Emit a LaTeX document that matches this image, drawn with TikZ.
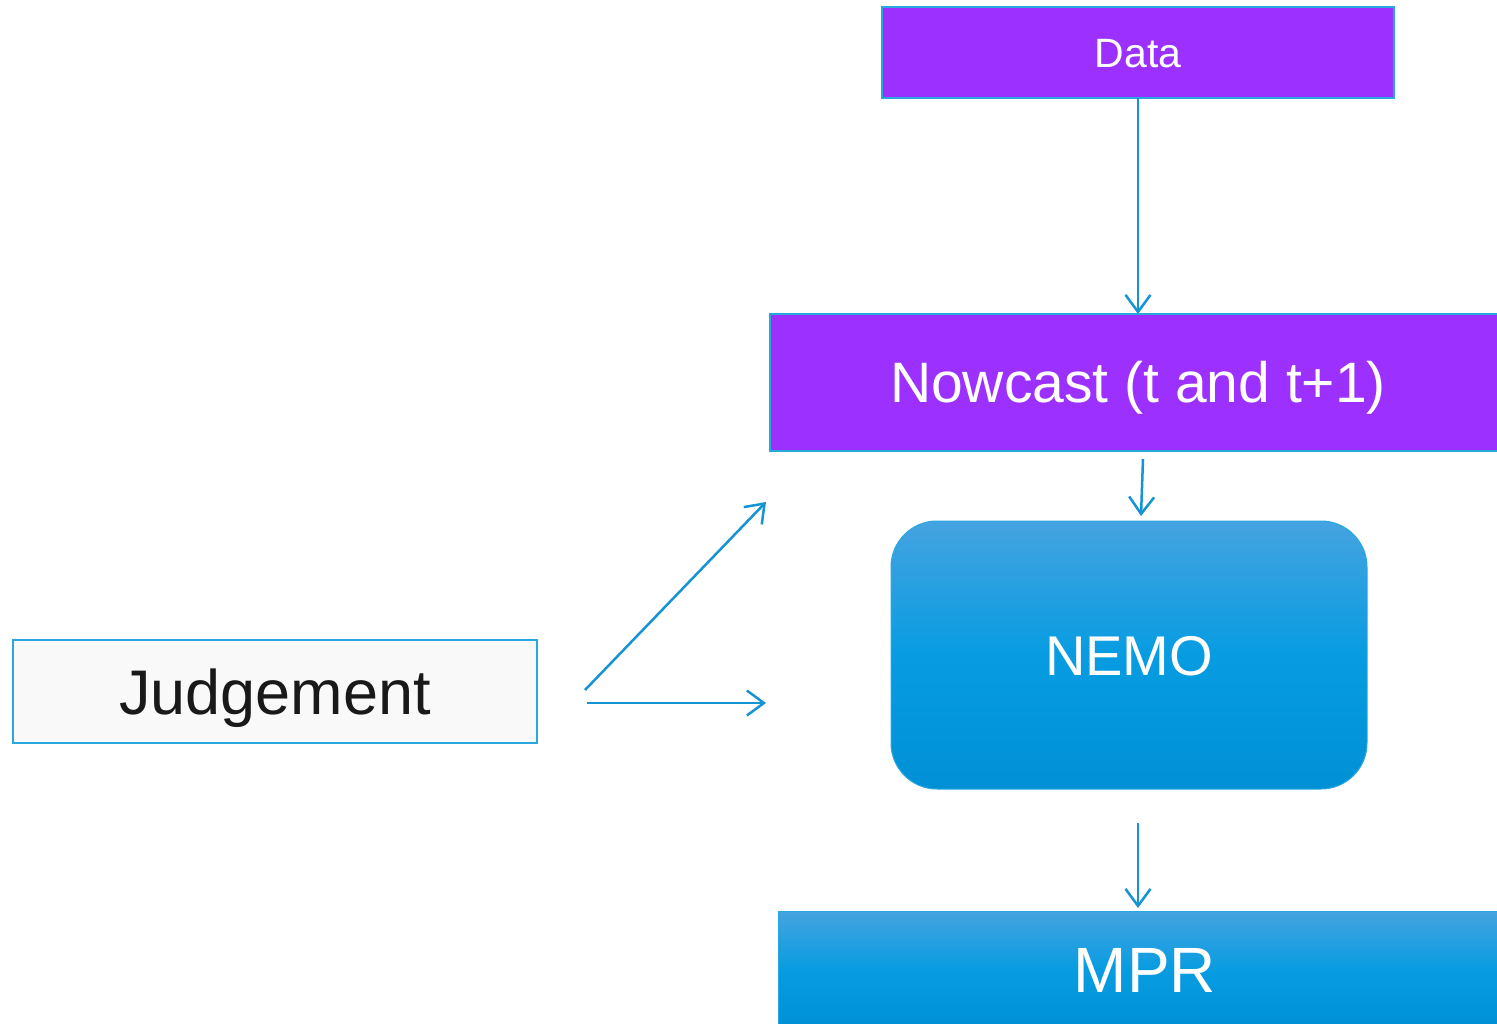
\documentclass[tikz,border=0pt]{standalone}
\usepackage{fontspec}
\setmainfont{Liberation Sans}
\usetikzlibrary{arrows.meta}
\definecolor{violetbox}{HTML}{9B30FF}
\definecolor{edgeblue}{HTML}{29A8E0}
\definecolor{arrowblue}{HTML}{1594D4}
\definecolor{shadetop}{HTML}{45A3E0}
\definecolor{shademid}{HTML}{079CE1}
\definecolor{shadebot}{HTML}{0090D6}
\definecolor{paper}{HTML}{F9F9F9}
\tikzset{
  violet box/.style={draw=edgeblue, line width=1.2pt, fill=violetbox, text=white,
    inner sep=0pt, outer sep=0pt, text depth=0pt},
  blue box/.style={draw=edgeblue, line width=1pt, top color=shadetop,
    bottom color=shadebot, middle color=shademid, text=white,
    inner sep=0pt, outer sep=0pt, text depth=0pt},
  plain box/.style={draw=edgeblue, line width=1.2pt, fill=paper, text=black!90,
    inner sep=0pt, outer sep=0pt, text depth=0pt},
  flow/.style={draw=arrowblue, line width=2.5pt,
    -{Straight Barb[length=17pt, width=25pt, line width=2.5pt]}},
}
\begin{document}
\begin{tikzpicture}[x=1pt, y=-1pt]
  \useasboundingbox (0,0) rectangle (1497,1023);
  \clip (0,0) rectangle (1497,1023);
  \fill[white] (0,0) rectangle (1497,1023);

  % boxes (text height = cap height, so the capitals sit centred)
  \node[violet box, minimum width=512pt, minimum height=91pt, text height=29.4pt,
        font=\fontsize{41}{45}\selectfont] (data) at (1138,52.5) {Data};
  \node[violet box, minimum width=736pt, minimum height=137pt, text height=40.8pt,
        font=\fontsize{57}{62}\selectfont] (nowcast) at (1138,382.5) {Nowcast (t and t+1)};
  \node[blue box, rounded corners=46pt, minimum width=476pt, minimum height=268pt,
        text height=40.1pt, font=\fontsize{56}{60}\selectfont] (nemo) at (1129,655) {NEMO};
  \node[plain box, minimum width=524pt, minimum height=103pt, text height=45.1pt,
        font=\fontsize{63}{68}\selectfont] (judge) at (275,691.5) {Judgement};
  \node[blue box, minimum width=734pt, minimum height=118pt, text height=45.8pt,
        font=\fontsize{64}{68}\selectfont] (mpr) at (1145,970) {MPR};

  % free ends of the connectors
  \coordinate (nowout) at (1143,459);
  \coordinate (nemoin) at (1141,516);
  \coordinate (nemoout) at (1138,823);
  \coordinate (mprin) at (1138,908);
  \coordinate (judgeup) at (585,690);
  \coordinate (judgeupend) at (766,502);
  \coordinate (judgeright) at (587,703);
  \coordinate (judgerightend) at (766,703);

  % connectors
  \draw[flow] (data.south) -- (nowcast.north);
  \draw[flow] (nowout) -- (nemoin);
  \draw[flow] (nemoout) -- (mprin);
  \draw[flow] (judgeup) -- (judgeupend);
  \draw[flow] (judgeright) -- (judgerightend);
\end{tikzpicture}
\end{document}
